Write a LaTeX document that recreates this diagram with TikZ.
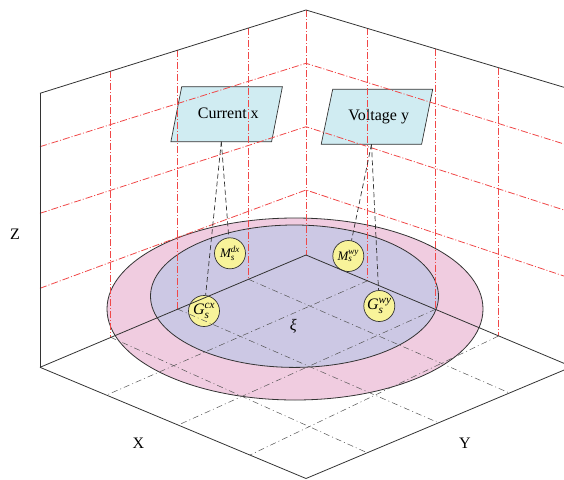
\documentclass[tikz,border=0pt]{standalone}
\usepackage{fontspec}
\setmainfont{Liberation Serif}
\definecolor{pinkF}{HTML}{F0CCE0}
\definecolor{lavF}{HTML}{CCC8E4}
\definecolor{yelF}{HTML}{F8F39A}
\definecolor{cyanF}{HTML}{D0ECF2}
\definecolor{redL}{HTML}{F04848}
\definecolor{edge}{HTML}{333333}
\definecolor{gridL}{HTML}{555555}
\begin{document}
\begin{tikzpicture}[x=1pt,y=-1pt,
 edgeline/.style={draw=edge, line width=0.8pt},
 wallgrid/.style={draw=redL, line width=0.8pt, dash pattern=on 7pt off 2pt on 1pt off 2pt},
 floorgrid/.style={draw=gridL, line width=0.5pt, dash pattern=on 6pt off 3pt on 1pt off 3pt},
 conn/.style={draw=edge, line width=0.7pt, dash pattern=on 5pt off 3pt},
 parabox/.style={draw=edge, line width=0.7pt, fill=cyanF},
 paratext/.style={inner sep=0pt, font=\fontsize{16}{18}\selectfont},
 ball/.style={circle, draw=edge, line width=0.7pt, fill=yelF, minimum size=31pt, inner sep=0pt},
 axislabel/.style={font=\fontsize{16}{18}\selectfont, inner sep=0pt}
]
\useasboundingbox (0,0) rectangle (564,479);
\clip (0,0) rectangle (564,479);
% corners
\coordinate (B) at (306,255);
\coordinate (L) at (40,367.3);
\coordinate (F) at (306,478.5);
\coordinate (R) at (572,366.7);
\coordinate (TL) at (40,93.3);
\coordinate (TB) at (306,10);
\coordinate (TR) at (572,89.7);
% discs
\filldraw[fill=pinkF, draw=edge, line width=0.8pt] (295,309) ellipse [x radius=188, y radius=91];
\filldraw[fill=lavF, draw=edge, line width=0.8pt] (294.5,296.2) ellipse [x radius=144, y radius=71.2];
% input boxes
\path[parabox] (181.7,86.7) -- (282.4,86.7) -- (271.6,141.7) -- (170.9,141.7) -- cycle;
\node[paratext] (cur) at (228.3,113.5) {Current x};
\coordinate (curb) at (221.3,141.7);
\path[parabox] (332.7,89.3) -- (432.7,89.3) -- (421.6,144.3) -- (321.2,144.3) -- cycle;
\node[paratext] (vol) at (378.7,116.5) {Voltage y};
\coordinate (volb) at (371.5,144.3);
% balls
\node[ball] (Mdx) at (230,253.3) {\fontsize{13}{13}\selectfont$\mathit{M}_{\mathit{s}}^{\mathit{dx}}$};
\node[ball] (Mwy) at (348.3,256) {\fontsize{13}{13}\selectfont$\mathit{M}_{\mathit{s}}^{\mathit{wy}}$};
\node[ball] (Gcx) at (204,311) {\fontsize{16}{16}\selectfont$\mathit{G}_{\mathit{s}}^{\mathit{cx}}$};
\node[ball] (Gwy) at (379.3,306) {\fontsize{16}{16}\selectfont$\mathit{G}_{\mathit{s}}^{\mathit{wy}}$};
% wall grid
\draw[wallgrid] (110.5,71.2) -- (110.5,337.2);
\draw[wallgrid] (177.5,50.2) -- (177.5,309);
\draw[wallgrid] (248.5,28.1) -- (248.5,279.3);
\draw[wallgrid] (TB) -- (B);
\draw[wallgrid] (367.5,28.4) -- (367.5,280.7);
\draw[wallgrid] (435.5,48.6) -- (435.5,309.2);
\draw[wallgrid] (498.5,67.7) -- (498.5,336);
\draw[wallgrid] (40,146.7) -- (306,63.3) -- (572,146.5);
\draw[wallgrid] (40,213.3) -- (306,126.7) -- (572,212.6);
\draw[wallgrid] (40,288.3) -- (306,190) -- (572,278.7);
% floor grid
\draw[floorgrid] (367.5,280.8) -- (106.7,395);
\draw[floorgrid] (435.5,309.3) -- (178.3,425);
\draw[floorgrid] (498.5,336) -- (250,455);
\draw[floorgrid] (248.5,279.3) -- (508.3,392.5);
\draw[floorgrid] (177.5,309) -- (436.7,422);
\draw[floorgrid] (110.5,337.2) -- (366.7,452.5);
% box edges
\draw[edgeline] (TL) -- (TB) -- (TR);
\draw[edgeline] (TL) -- (L);
\draw[edgeline] (TR) -- (R);
\draw[edgeline] (L) -- (B) -- (R);
\draw[edgeline] (L) -- (F) -- (R);
% connectors
\draw[conn] (curb) -- (Mdx);
\draw[conn] (curb) -- (Gcx);
\draw[conn] (volb) -- (Mwy);
\draw[conn] (volb) -- (Gwy);
% labels
\node[axislabel] (zl) at (15,234.5) {Z};
\node[axislabel] (xl) at (138.3,443.3) {X};
\node[axislabel] (yl) at (465,443.3) {Y};
\node[axislabel] (xi) at (293.3,326.7) {\textit{ξ}};
\end{tikzpicture}
\end{document}
